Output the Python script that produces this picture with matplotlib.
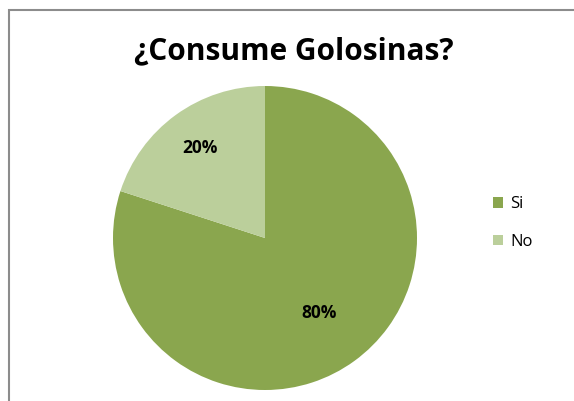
#!/usr/bin/env python3
"""Pie chart: ¿Consume Golosinas?"""
import numpy as np
import matplotlib
matplotlib.use('Agg')
import matplotlib.pyplot as plt
from matplotlib.patches import Rectangle

# ------------------------------------------------------------------
# data
# ------------------------------------------------------------------
categories = ['Si', 'No']
values = [80, 20]
colors = ['#8aa64e', '#bbcf9b']
label_dist = [0.61, 0.73]   # Excel-like placement of percentage labels

plt.rcParams['font.family'] = ['Open Sans', 'DejaVu Sans']

W, H = 574, 401
fig = plt.figure(figsize=(W / 100, H / 100), dpi=100)
fig.patch.set_facecolor('white')

# chart border (top-left corner visible, rest cut off)
fig.patches.append(Rectangle((9 / W, -0.1), 2.0, (H - 10) / H + 0.1,
                             transform=fig.transFigure, fill=False,
                             edgecolor='#8c8c8c', linewidth=1.5))

fig.text(294 / W, 1 - 51 / H, '¿Consume Golosinas?', ha='center', va='center',
         fontsize=21.5, fontweight='bold', color='black')

# pie axes: centre (265, 238), radius 152 px
ax = fig.add_axes([113 / W, 1 - 390 / H, 304 / W, 304 / H])
wedges, texts = ax.pie(values, colors=colors, startangle=90, counterclock=False,
                       radius=1.0, wedgeprops=dict(linewidth=0))
for w, d, v in zip(wedges, label_dist, values):
    ang = np.deg2rad((w.theta1 + w.theta2) / 2)
    ax.text(d * np.cos(ang), d * np.sin(ang), f'{v}%', ha='center', va='center',
            fontsize=12.5, fontweight='bold', color='black')
ax.set_xlim(-1, 1)
ax.set_ylim(-1, 1)
ax.set_aspect('equal')
ax.axis('off')

# legend
ax.legend(wedges, categories, loc='center left', bbox_to_anchor=(478 / W, 1 - 223 / H),
          bbox_transform=fig.transFigure, frameon=False, fontsize=12,
          handlelength=0.6, handleheight=0.6, handletextpad=0.45, labelspacing=1.3)

fig.savefig('out.png', dpi=100)
